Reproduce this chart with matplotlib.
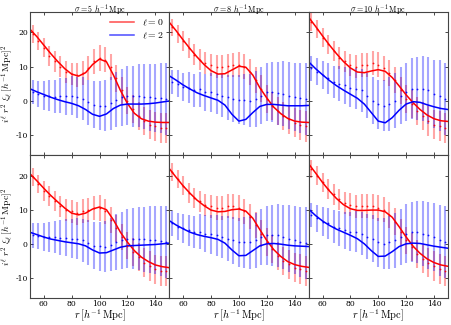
import matplotlib
matplotlib.use('Agg')
import matplotlib.pyplot as plt

plt.rcParams['font.family'] = 'serif'
plt.rcParams['font.serif'] = ['DejaVu Serif']
plt.rcParams['mathtext.fontset'] = 'cm'
plt.rcParams['axes.unicode_minus'] = False

# radial grid of the model curves and of the measured points
r_model = [50, 55, 60, 65, 70, 75, 80, 85, 90, 95, 100, 105, 110,
           115, 120, 125, 130, 135, 140, 145, 150]
r_data = [52, 56, 60, 64, 68, 72, 76, 80, 84, 88, 92, 96, 100, 104,
          108, 112, 116, 120, 124, 128, 132, 136, 140, 144, 148]

sigmas = ['5', '8', '10']

# model curves, top row (sigma = 5, 8, 10)
mono_top_5 = [21.0, 18.8, 16.3, 13.8, 11.5, 9.4, 7.8, 7.2, 8.2, 10.6, 12.2, 11.4, 7.5,
              3.0, -0.8, -3.7, -5.3, -6.0, -6.3, -6.4, -6.4]
quad_top_5 = [3.5, 2.6, 1.8, 1.0, 0.3, -0.3, -0.8, -1.5, -2.6, -4.0, -4.6, -3.9, -2.3,
              -1.3, -1.0, -1.0, -1.0, -0.9, -0.7, -0.4, -0.1]
mono_top_8 = [23.0, 20.5, 17.8, 15.2, 12.8, 10.6, 8.8, 7.8, 7.9, 9.0, 10.1, 9.8, 7.5,
              3.8, 0.8, -1.9, -3.8, -5.2, -6.0, -6.3, -6.4]
quad_top_8 = [7.3, 6.0, 4.6, 3.4, 2.3, 1.5, 0.8, 0.1, -1.3, -4.0, -6.0, -5.5, -3.5,
              -1.7, -1.1, -1.1, -1.3, -1.5, -1.5, -1.5, -1.4]
mono_top_10 = [24.5, 21.8, 19.0, 16.3, 13.8, 11.5, 9.6, 8.4, 8.2, 8.7, 9.1, 8.6, 6.8,
               4.3, 1.7, -0.6, -2.6, -4.2, -5.3, -5.9, -6.1]
quad_top_10 = [11.4, 9.4, 7.6, 5.9, 4.4, 3.1, 1.9, 0.7, -1.0, -3.5, -6.0, -6.5, -5.0,
               -2.8, -1.0, -0.3, -0.5, -1.2, -1.8, -2.3, -2.6]

# model curves, bottom row
mono_bot_5 = [20.6, 18.5, 16.3, 14.2, 12.3, 10.5, 9.0, 8.5, 9.0, 10.2, 10.8, 10.0, 7.0,
              3.4, 0.5, -2.0, -3.9, -5.2, -6.2, -6.7, -7.0]
quad_bot_5 = [3.4, 2.7, 2.0, 1.4, 1.0, 0.6, 0.3, 0.0, -0.6, -1.8, -2.7, -2.6, -1.8,
              -1.0, -0.6, -0.5, -0.4, -0.3, -0.2, 0.0, 0.2]
mono_bot_8 = [22.1, 19.5, 17.0, 14.8, 12.8, 11.2, 9.9, 9.4, 9.5, 10.0, 10.2, 9.6, 7.5,
              4.2, 1.0, -1.7, -3.7, -5.2, -6.1, -6.6, -6.9]
quad_bot_8 = [6.8, 5.5, 4.4, 3.4, 2.7, 2.2, 1.8, 1.3, 0.2, -1.8, -3.5, -3.4, -2.0,
              -0.6, 0.0, 0.1, -0.1, -0.4, -0.6, -0.7, -0.8]
mono_bot_10 = [23.5, 20.8, 18.0, 15.5, 13.3, 11.5, 10.3, 9.8, 9.8, 9.9, 9.9, 9.4, 7.8,
               5.0, 2.0, -0.7, -2.8, -4.4, -5.5, -6.2, -6.6]
quad_bot_10 = [10.2, 8.3, 6.7, 5.4, 4.3, 3.4, 2.5, 1.5, 0.0, -2.0, -3.7, -3.6, -2.3,
               -0.8, 0.0, 0.2, 0.1, -0.3, -0.7, -1.0, -1.3]

# measured points, top row
mono_pts_top_5 = [19.5, 17.5, 15.5, 13.0, 11.5, 10.0, 8.5, 7.8, 7.5, 8.0, 9.5, 11.5, 12.5,
                  12.0, 10.0, 6.5, 3.0, 0.0, -2.5, -4.5, -6.0, -7.0, -7.5, -8.0, -8.0]
quad_pts_top_5 = [2.5, 2.0, 1.5, 1.5, 1.2, 1.5, 1.3, 1.5, 1.0, 0.5, -0.5, -1.2, -1.5,
                  -1.5, -0.8, 0.3, 1.0, 1.5, 1.3, 1.5, 1.2, 1.0, 0.8, 0.7, 0.5]
mono_pts_top_8 = [21.5, 19.5, 17.5, 15.5, 13.5, 12.0, 11.0, 10.5, 10.0, 10.0, 10.3, 10.5, 10.5,
                  10.0, 8.5, 6.0, 3.5, 0.5, -1.5, -3.0, -4.5, -5.5, -6.5, -7.0, -7.5]
quad_pts_top_8 = [5.5, 5.0, 4.0, 3.8, 3.0, 3.3, 2.5, 2.5, 2.0, 1.5, 1.0, 0.5, 0.3,
                  0.3, 0.0, 0.5, 1.5, 2.5, 2.5, 2.2, 2.0, 1.5, 1.0, 0.8, 0.5]
mono_pts_top_10 = [23.0, 21.0, 18.5, 16.5, 14.5, 12.5, 11.5, 10.5, 10.0, 10.5, 10.5, 11.0, 10.5,
                   9.5, 8.0, 6.0, 3.0, 0.5, -1.0, -3.0, -4.5, -6.0, -7.0, -7.5, -8.0]
quad_pts_top_10 = [9.5, 8.5, 7.5, 6.5, 5.5, 5.0, 4.5, 3.8, 3.5, 3.0, 1.5, 0.0, -1.0,
                   -1.5, -1.0, 0.0, 1.5, 2.5, 3.5, 3.5, 3.5, 3.0, 2.0, 1.5, 0.5]

# measured points, bottom row
mono_pts_bot_5 = [19.5, 17.5, 15.5, 14.0, 12.5, 11.0, 10.0, 9.5, 9.0, 9.5, 10.0, 10.5, 10.5,
                  9.5, 7.0, 4.5, 2.0, -0.5, -2.5, -4.0, -5.5, -6.5, -7.5, -8.0, -8.0]
quad_pts_bot_5 = [2.5, 2.3, 2.0, 2.0, 2.0, 1.8, 1.8, 1.5, 1.5, 1.0, 0.3, -0.5, -0.7,
                  -0.8, -0.3, 0.5, 1.0, 1.5, 1.5, 1.5, 1.3, 1.2, 1.0, 0.8, 0.5]
mono_pts_bot_8 = [21.0, 19.0, 17.0, 15.0, 13.5, 12.5, 11.5, 11.0, 10.5, 10.5, 11.0, 11.0, 10.5,
                  9.5, 8.0, 5.5, 3.0, 0.5, -1.5, -3.5, -5.0, -6.0, -7.0, -7.5, -8.0]
quad_pts_bot_8 = [6.0, 5.0, 4.5, 4.0, 3.5, 3.5, 3.0, 2.8, 2.5, 2.0, 1.5, 1.0, 0.5,
                  0.5, 0.5, 1.0, 2.0, 2.5, 2.5, 2.5, 2.0, 1.5, 1.0, 0.5, 0.3]
mono_pts_bot_10 = [22.0, 20.0, 18.0, 16.0, 14.5, 13.0, 12.0, 11.5, 11.0, 11.0, 11.0, 11.0, 10.5,
                   10.0, 8.5, 6.5, 3.5, 1.0, -1.0, -3.0, -4.5, -5.5, -6.5, -7.5, -8.0]
quad_pts_bot_10 = [8.5, 7.5, 6.5, 6.0, 5.0, 4.5, 4.0, 3.5, 3.5, 3.0, 2.0, 1.5, 0.5,
                   0.0, 0.5, 1.0, 2.0, 3.0, 3.5, 3.5, 3.0, 2.5, 2.0, 1.0, 0.5]

# error bars (same for every panel)
mono_err = [2.6, 2.7, 2.8, 2.9, 3.0, 3.1, 3.2, 3.3, 3.4, 3.5, 3.5, 3.6, 3.7,
            3.7, 3.8, 3.9, 3.9, 4.0, 4.1, 4.1, 4.2, 4.3, 4.3, 4.4, 4.5]
quad_err = [3.6, 3.9, 4.2, 4.5, 4.8, 5.1, 5.4, 5.7, 6.0, 6.3, 6.6, 6.9, 7.2,
            7.5, 7.8, 8.1, 8.3, 8.6, 8.9, 9.2, 9.5, 9.8, 10.0, 10.3, 10.6]

models = [[(mono_top_5, quad_top_5), (mono_top_8, quad_top_8), (mono_top_10, quad_top_10)],
          [(mono_bot_5, quad_bot_5), (mono_bot_8, quad_bot_8), (mono_bot_10, quad_bot_10)]]
points = [[(mono_pts_top_5, quad_pts_top_5), (mono_pts_top_8, quad_pts_top_8),
           (mono_pts_top_10, quad_pts_top_10)],
          [(mono_pts_bot_5, quad_pts_bot_5), (mono_pts_bot_8, quad_pts_bot_8),
           (mono_pts_bot_10, quad_pts_bot_10)]]

fig, axes = plt.subplots(2, 3, figsize=(4.52, 3.25), dpi=100, sharex=True, sharey=True)
fig.subplots_adjust(left=0.066, right=0.991, top=0.963, bottom=0.082, wspace=0, hspace=0)


def draw_points(ax, y, err, col):
    line, caps, bars = ax.errorbar(r_data, y, yerr=err, fmt='o', ms=1.3, mew=0, color=col,
                                   ecolor=col, elinewidth=1.5, capsize=1.8, capthick=0.7)
    bars[0].set_alpha(0.35)
    for c in caps:
        c.set_alpha(0.8)
    line.set_alpha(0.9)


for i in range(2):
    for j in range(3):
        ax = axes[i, j]
        mono, quad = models[i][j]
        mono_p, quad_p = points[i][j]
        draw_points(ax, mono_p, mono_err, 'red')
        draw_points(ax, quad_p, quad_err, 'blue')
        ax.plot(r_model, mono, color='red', lw=1.1, label=r'$\ell=0$')
        ax.plot(r_model, quad, color='blue', lw=1.1, label=r'$\ell=2$')
        ax.set_xlim(50, 150)
        ax.set_ylim(-16, 26)
        ax.set_xticks([60, 80, 100, 120, 140])
        ax.set_yticks([-10, 0, 10, 20])
        ax.tick_params(direction='in', top=True, right=True, labelsize=5.5,
                       length=2.5, width=0.5, pad=1.5)
        for s in ax.spines.values():
            s.set_linewidth(0.8)
            s.set_color('#444444')
        pos = ax.get_position()
        xc = (pos.x0 + pos.x1) / 2
        if i == 0:
            # title placed from the figure top so it stays inside the canvas
            fig.text(xc, 0.995, r'$\sigma=%s\ h^{-1}\,\mathrm{Mpc}$' % sigmas[j],
                     fontsize=5.8, ha='center', va='top')
        else:
            fig.text(xc, 0.004, r'$r\,[h^{-1}\,\mathrm{Mpc}]$', fontsize=7.5,
                     ha='center', va='bottom')
        if j == 0:
            ax.set_ylabel(r'$i^\ell\ r^2\ \xi_\ell\,[h^{-1}\,\mathrm{Mpc}]^2$', fontsize=7, labelpad=0)

leg = axes[0, 0].legend(loc='upper right', frameon=False, fontsize=7, handlelength=2.5,
                        borderaxespad=0.2, labelspacing=0.3)
for h in leg.get_lines():
    h.set_alpha(0.7)

fig.savefig('out.png', dpi=100)
